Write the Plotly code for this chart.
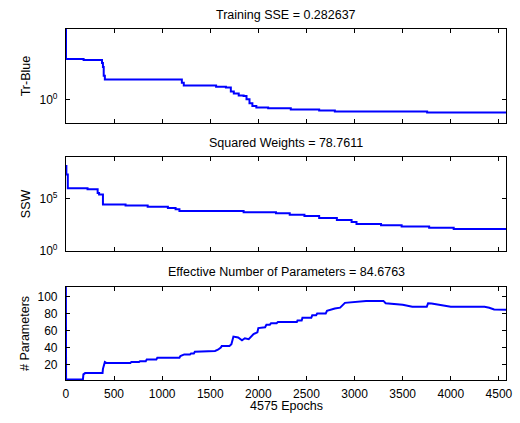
import plotly.graph_objects as go

# ---------------- data ----------------
tr_epochs = [0, 1, 184, 375, 385, 393, 405, 1205, 1225, 1561, 1663, 1714, 1745, 1796,
             1847, 1877, 1908, 1938, 1979, 2102, 2337, 2632, 2795, 3754, 4575]
tr_values = [12, 3.25, 3.16, 2.9, 2.58, 2.0, 1.79, 1.63, 1.50, 1.44, 1.41, 1.26, 1.19, 1.12,
             1.10, 1.0, 0.89, 0.82, 0.79, 0.77, 0.74, 0.72, 0.70, 0.68, 0.68]

ssw_epochs = [0, 5, 20, 225, 330, 345, 385, 620, 850, 1060, 1140, 1180, 1847, 2183, 2326,
              2479, 2632, 2816, 2969, 3020, 3275, 3489, 3775, 4030, 4575]
ssw_values = [1.26e8, 2.0e7, 1.0e6, 7.9e5, 3.5e5, 2.5e5, 2.8e4, 2.2e4, 1.66e4, 1.26e4,
              9.5e3, 6.6e3, 5.0e3, 4.0e3, 2.95e3, 2.2e3, 1.41e3, 912, 603, 389, 288, 214,
              170, 129, 129]

par_epochs = [0, 2, 177, 182, 200, 381, 385, 395, 405, 420, 440, 670, 680, 760, 770, 830,
              840, 940, 950, 1180, 1190, 1220, 1230, 1290, 1300, 1330, 1340, 1550, 1580,
              1610, 1620, 1700, 1720, 1741, 1790, 1830, 1860, 1900, 1950, 1990, 2000, 2070,
              2084, 2120, 2132, 2190, 2203, 2400, 2407, 2450, 2458, 2550, 2560, 2600, 2611,
              2700, 2713, 2795, 2850, 2900, 3017, 3119, 3300, 3323, 3500, 3600, 3750, 3764,
              3800, 3900, 4000, 4350, 4400, 4450, 4575]
par_values = [111.5, 2.3, 2.3, 8.5, 10, 10, 15, 21, 23, 22, 22, 22, 23, 23, 24, 24, 26, 26,
              28, 28, 30, 31, 32, 32, 33, 33, 35, 36, 37.5, 40, 42, 42, 44, 53, 52, 48.6, 51,
              50, 56, 58, 63, 64, 67, 67, 68.7, 68.7, 70, 70, 72, 72, 75, 75, 78, 78, 80,
              80, 83.4, 86, 87, 92.7, 94.2, 95, 95, 92.3, 90.4, 88, 88, 92.3, 92, 90, 88, 88,
              87, 85, 84.7]

x_ticks = [0, 500, 1000, 1500, 2000, 2500, 3000, 3500, 4000, 4500]
par_ticks = [20, 40, 60, 80, 100]

titles = ["Training SSE = 0.282637", "Squared Weights = 78.7611",
          "Effective Number of Parameters = 84.6763"]
ylabels = ["Tr-Blue", "SSW", "# Parameters"]
xlabel = "4575 Epochs"

# ---------------- figure ----------------
W, H = 520, 423
FONT = "Liberation Sans, Arial, sans-serif"
BLUE = "#0000FF"

def py(y):
    return 1 - y / H

xdom = [64 / W, 512 / W]
ydoms = [[py(125), py(29)], [py(255.3), py(159.3)], [py(386.7), py(291.7)]]

fig = go.Figure()
fig.add_trace(go.Scatter(x=tr_epochs, y=tr_values, mode="lines", line_shape="hv",
                         line=dict(color=BLUE, width=2), xaxis="x", yaxis="y"))
fig.add_trace(go.Scatter(x=ssw_epochs, y=ssw_values, mode="lines", line_shape="hv",
                         line=dict(color=BLUE, width=2), xaxis="x2", yaxis="y2"))
fig.add_trace(go.Scatter(x=par_epochs, y=par_values, mode="lines",
                         line=dict(color=BLUE, width=2), xaxis="x3", yaxis="y3"))

common_ax = dict(showline=True, linecolor="black", linewidth=1, mirror="allticks",
                 ticks="inside", ticklen=4, tickcolor="black", showgrid=False,
                 zeroline=False, tickfont=dict(family=FONT, size=12, color="black"))

layout = dict(width=W, height=H, margin=dict(l=0, r=0, t=0, b=0),
              paper_bgcolor="white", plot_bgcolor="white", showlegend=False,
              font=dict(family=FONT, size=12, color="black"))

for i in range(3):
    xk = "xaxis" if i == 0 else f"xaxis{i+1}"
    yid = "y" if i == 0 else f"y{i+1}"
    layout[xk] = dict(common_ax, domain=xdom, anchor=yid, range=[0, 4575],
                      tickvals=x_ticks, showticklabels=(i == 2))
    if i == 2:
        layout[xk]["ticklabelstandoff"] = 2

layout["yaxis"] = dict(common_ax, domain=ydoms[0], anchor="x", type="log",
                       range=[-0.3, 0.9], tickvals=[1], ticktext=["10<sup>0</sup>"],
                       ticklabelstandoff=5)
layout["yaxis2"] = dict(common_ax, domain=ydoms[1], anchor="x2", type="log",
                        range=[0, 9], tickvals=[1, 1e5],
                        ticktext=["10<sup>0</sup>", "10<sup>5</sup>"], ticklabelstandoff=5)
layout["yaxis3"] = dict(common_ax, domain=ydoms[2], anchor="x3", range=[1.5, 111.5],
                        tickvals=par_ticks, ticklabelstandoff=5)

anns = []
title_y = [15, 145, 277]
for t, yy in zip(titles, title_y):
    anns.append(dict(text=t, x=288 / W, y=py(yy), xref="paper", yref="paper",
                     showarrow=False, xanchor="center", yanchor="middle",
                     font=dict(family=FONT, size=12.5, color="black")))
label_y = [77, 207, 339]
for t, yy in zip(ylabels, label_y):
    anns.append(dict(text=t, x=23 / W, y=py(yy), xref="paper", yref="paper",
                     showarrow=False, xanchor="center", yanchor="middle", textangle=-90,
                     font=dict(family=FONT, size=12.5, color="black")))
anns.append(dict(text=xlabel, x=288 / W, y=0, xref="paper", yref="paper",
                 showarrow=False, xanchor="center", yanchor="bottom", yshift=1,
                 font=dict(family=FONT, size=12.5, color="black")))
layout["annotations"] = anns

fig.update_layout(layout)
fig.write_html("out.html")
